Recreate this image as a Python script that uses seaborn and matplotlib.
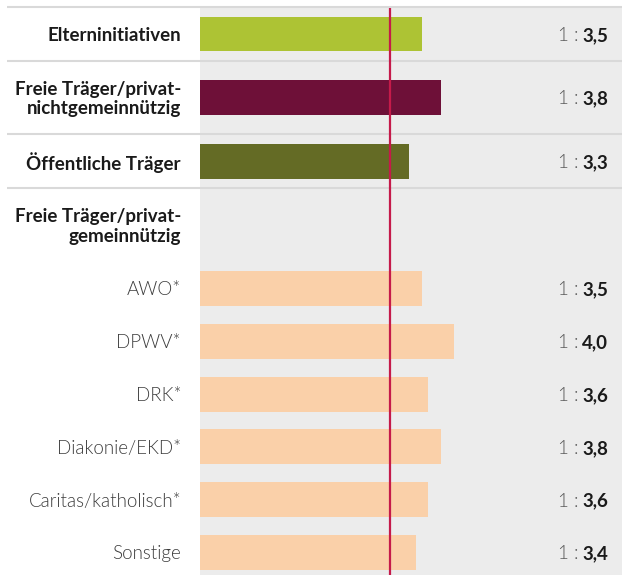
import numpy as np
import pandas as pd
import matplotlib
matplotlib.use("Agg")
import matplotlib.pyplot as plt
import seaborn as sns

# Personalschlüssel nach Träger (1 : x)
labels = [
    "Elterninitiativen",
    "Freie Träger/privat-\nnichtgemeinnützig",
    "Öffentliche Träger",
    "Freie Träger/privat-\ngemeinnützig",
    "AWO*",
    "DPWV*",
    "DRK*",
    "Diakonie/EKD*",
    "Caritas/katholisch*",
    "Sonstige",
]
ratios = [3.5, 3.8, 3.3, np.nan, 3.5, 4.0, 3.6, 3.8, 3.6, 3.4]
is_group = [True, True, True, True, False, False, False, False, False, False]
bar_colors = ["#adc334", "#6e1038", "#646b25", "#ffffff",
              "#fad0a9", "#fad0a9", "#fad0a9", "#fad0a9", "#fad0a9", "#fad0a9"]
reference_ratio = 3.0

# layout (pixels from top)
W, H = 622, 575
top = 7
row_heights = [54, 73, 54, 74, 52.8, 52.8, 52.8, 52.8, 52.8, 52.8]
edges = top + np.concatenate([[0], np.cumsum(row_heights)])
centers = (edges[:-1] + edges[1:]) / 2
px_per_unit = 63.4
x0 = 200
text_dy = 1.5

sns.set_theme(style="white")
plt.rcParams["font.family"] = ["Lato", "DejaVu Sans"]

fig = plt.figure(figsize=(W / 100, H / 100), dpi=100)
ax = fig.add_axes([0, 0, 1, 1])

df = pd.DataFrame({"label": labels, "ratio": ratios, "ypos": centers})
df_bars = df.dropna(subset=["ratio"])
palette = dict(zip(labels, bar_colors))

ax.axvspan(0, (W - x0) / px_per_unit, ymin=0, ymax=1 - (top + 1) / H,
           color="#ececec", zorder=0, lw=0)

sns.barplot(data=df_bars, x="ratio", y="ypos", hue="label", palette=palette,
            orient="h", native_scale=True, dodge=False, errorbar=None,
            width=35 / 52.8, legend=False, saturation=1, linewidth=0,
            ax=ax, zorder=2)

ax.set_xlim(-x0 / px_per_unit, (W - x0) / px_per_unit)
ax.set_ylim(H, 0)
ax.set_axis_off()

# separators
for y in edges[:4]:
    ax.plot([7 / W, 1], [y, y], transform=ax.get_yaxis_transform(),
            color="#d9d9d9", lw=1.5, zorder=3, solid_capstyle="butt")

ax.plot([reference_ratio, reference_ratio], [top + 1, H], color="#c51a4a",
        lw=1.6, zorder=4, solid_capstyle="butt")

tr = ax.get_yaxis_transform()
for lab, val, yc, grp in zip(labels, ratios, centers, is_group):
    yt = yc + text_dy
    if grp:
        ax.text(181 / W, yt, lab, transform=tr, ha="right", va="center",
                fontsize=13.5, fontweight="bold", color="#1a1a1a", linespacing=1.2)
    else:
        ax.text(181 / W, yt, lab, transform=tr, ha="right", va="center",
                fontsize=13.5, fontweight=300, color="#3c3c3c")
    if not np.isnan(val):
        ax.text(579 / W, yt, "1 :", transform=tr, ha="right", va="center",
                fontsize=13.5, fontweight=300, color="#5a5a5a")
        ax.text(608 / W, yt, f"{val:.1f}".replace(".", ","), transform=tr,
                ha="right", va="center", fontsize=13.5, fontweight="bold",
                color="#1a1a1a")

fig.savefig("out.png", dpi=100)
